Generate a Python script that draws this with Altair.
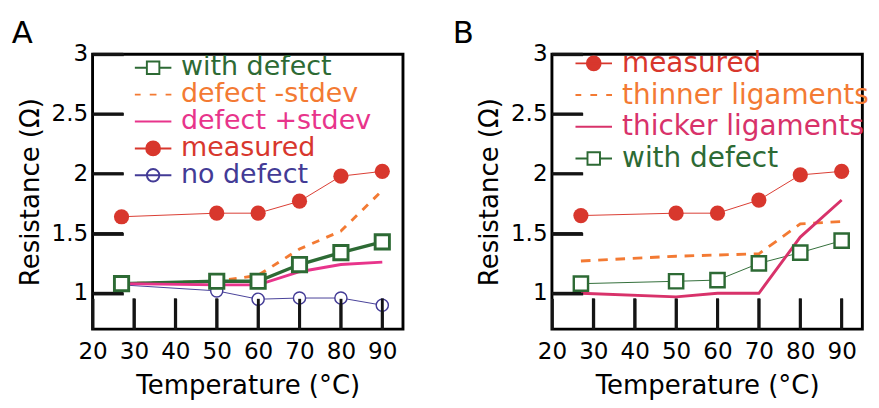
import altair as alt
import pandas as pd

# ---------------- data ----------------
temps = [27, 50, 60, 70, 80, 90]

a_with_defect = [1.08, 1.10, 1.10, 1.24, 1.34, 1.43]
a_defect_minus = [1.08, 1.10, 1.15, 1.37, 1.52, 1.86]
a_defect_plus = [1.08, 1.07, 1.07, 1.18, 1.24, 1.26]
a_measured = [1.64, 1.67, 1.67, 1.77, 1.98, 2.02]
a_no_defect = [1.07, 1.02, 0.95, 0.96, 0.96, 0.90]

b_measured = [1.65, 1.67, 1.67, 1.78, 1.99, 2.02]
b_thinner = [1.27, 1.31, 1.32, 1.33, 1.58, 1.60]
b_thicker = [1.00, 0.97, 1.00, 1.00, 1.47, 1.78]
b_with_defect = [1.08, 1.10, 1.11, 1.25, 1.34, 1.44]

a_names = ["with defect", "defect -stdev", "defect +stdev", "measured", "no defect"]
b_names = ["measured", "thinner ligaments", "thicker ligaments", "with defect"]

x_tick_values = [20, 30, 40, 50, 60, 70, 80, 90]
y_tick_values = [1, 1.5, 2, 2.5, 3]

# ---------------- style ----------------
FONT = "DejaVu Sans"
W, H = 323, 286
XDOM = [20, 95]
YDOM = [0.7, 3]
TICK_PX = 32

RED = "#d8372d"
GREEN = "#2d6a34"
ORANGE = "#f37a33"
PINK = "#e8348b"
CRIMSON = "#d8326a"
BLUE = "#433b96"
TICK = "#141414"

colors = {
    "with defect": GREEN, "defect -stdev": ORANGE, "defect +stdev": PINK,
    "measured": RED, "no defect": BLUE,
    "thinner ligaments": ORANGE, "thicker ligaments": CRIMSON,
}
fills = {
    "with defect": "white", "defect -stdev": "transparent", "defect +stdev": "transparent",
    "measured": RED, "no defect": "white",
    "thinner ligaments": "transparent", "thicker ligaments": "transparent",
}
LINE = "M-1.9,0H1.9"
DASH = "M-1.9,0H-1.3M-0.35,0H0.35M1.3,0H1.9"
paths = {
    "with defect": "M-1.9,0H-0.65M0.65,0H1.9M-0.65,-0.65H0.65V0.65H-0.65Z",
    "defect -stdev": DASH,
    "defect +stdev": LINE,
    "measured": "M-1.9,0H1.9M-0.72,0A0.72,0.72 0 1,0 0.72,0A0.72,0.72 0 1,0 -0.72,0Z",
    "no defect": "M-1.9,0H1.9M-0.65,0A0.65,0.65 0 1,0 0.65,0A0.65,0.65 0 1,0 -0.65,0Z",
    "thinner ligaments": DASH,
    "thicker ligaments": LINE,
}


def make_df(series):
    rows = []
    for name, vals in series.items():
        for t, v in zip(temps, vals):
            rows.append({"series": name, "t": t, "r": v})
    return pd.DataFrame(rows)


XS = alt.Scale(domain=XDOM, nice=False, zero=False)
YS = alt.Scale(domain=YDOM, nice=False, zero=False)


def xenc():
    return alt.X("t:Q", scale=XS,
                 axis=alt.Axis(values=x_tick_values, title="Temperature (°C)",
                               offset=-TICK_PX, ticks=True, tickSize=TICK_PX, tickWidth=3,
                               tickColor=TICK, labelPadding=12, titlePadding=10,
                               labelFlush=False, zindex=1))


def yenc():
    return alt.Y("r:Q", scale=YS,
                 axis=alt.Axis(values=y_tick_values, title="Resistance (Ω)",
                               offset=-TICK_PX, ticks=True, tickSize=TICK_PX, tickWidth=3,
                               tickColor=TICK, labelPadding=5, titlePadding=7,
                               labelFlush=False, format="~g", zindex=1))


def tick_rules():
    xt = pd.DataFrame({"t": x_tick_values[1:]})
    xt["r"] = YDOM[0]
    xt["r1"] = YDOM[0] + TICK_PX / H * (YDOM[1] - YDOM[0])
    yt = pd.DataFrame({"r": y_tick_values})
    yt["t"] = XDOM[0]
    yt["t1"] = XDOM[0] + TICK_PX / W * (XDOM[1] - XDOM[0])
    xr = alt.Chart(xt).mark_rule(color=TICK, strokeWidth=3).encode(x=xenc(), y=yenc(), y2="r1:Q")
    yr = alt.Chart(yt).mark_rule(color=TICK, strokeWidth=3).encode(x=xenc(), y=yenc(), x2="t1:Q")
    return [xr, yr]


def line(df, name, color, width, dash=None):
    kw = dict(color=color, strokeWidth=width)
    if dash:
        kw["strokeDash"] = dash
    return alt.Chart(df).transform_filter(alt.datum.series == name).mark_line(**kw).encode(
        x=xenc(), y=yenc())


def points(df, name, shape, size, fill, stroke, sw):
    return alt.Chart(df).transform_filter(alt.datum.series == name).mark_point(
        shape=shape, size=size, fill=fill, stroke=stroke, strokeWidth=sw, filled=True, opacity=1
    ).encode(x=xenc(), y=yenc())


def legend_layer(names, lx, ly, rowpad, fsize):
    expr = " : ".join(f"datum.value === '{n}' ? '{colors[n]}'" for n in names) + " : 'black'"
    leg = alt.Legend(orient="none", legendX=lx, legendY=ly, title=None,
                     labelFont=FONT, labelFontSize=fsize, labelOffset=15, labelLimit=0,
                     symbolSize=400, symbolStrokeWidth=2, rowPadding=rowpad, padding=0,
                     labelColor=alt.ExprRef(expr))
    df = pd.DataFrame({"series": names})
    return alt.Chart(df).transform_filter("false").mark_point(opacity=1).encode(
        shape=alt.Shape("series:N", scale=alt.Scale(domain=names, range=[paths[n] for n in names]), legend=leg),
        stroke=alt.Stroke("series:N", scale=alt.Scale(domain=names, range=[colors[n] for n in names]), legend=leg),
        fill=alt.Fill("series:N", scale=alt.Scale(domain=names, range=[fills[n] for n in names]), legend=leg),
    )


dfa = make_df({"with defect": a_with_defect, "defect -stdev": a_defect_minus,
               "defect +stdev": a_defect_plus, "measured": a_measured, "no defect": a_no_defect})
dfb = make_df({"measured": b_measured, "thinner ligaments": b_thinner,
               "thicker ligaments": b_thicker, "with defect": b_with_defect})

panel_a = alt.layer(
    *tick_rules(),
    line(dfa, "measured", RED, 1),
    line(dfa, "no defect", BLUE, 1),
    line(dfa, "defect -stdev", ORANGE, 3, [8, 8]),
    line(dfa, "with defect", GREEN, 3.5),
    line(dfa, "defect +stdev", PINK, 3),
    points(dfa, "measured", "circle", 250, RED, RED, 0),
    points(dfa, "no defect", "circle", 160, "white", BLUE, 1.5),
    points(dfa, "with defect", "square", 220, "white", GREEN, 3),
    legend_layer(a_names, 49, 0, 0, 28),
).properties(width=W, height=H,
             title=alt.Title("A", anchor="start", fontSize=32, font=FONT, fontWeight="normal", dx=-6, offset=-7))

panel_b = alt.layer(
    *tick_rules(),
    line(dfb, "measured", RED, 1),
    line(dfb, "thinner ligaments", ORANGE, 3, [10, 8]),
    line(dfb, "with defect", GREEN, 1),
    line(dfb, "thicker ligaments", CRIMSON, 3),
    points(dfb, "measured", "circle", 250, RED, RED, 0),
    points(dfb, "with defect", "square", 220, "white", GREEN, 2.5),
    legend_layer(b_names, 29, -5, 3, 29),
).properties(width=W, height=H,
             title=alt.Title("B", anchor="start", fontSize=32, font=FONT, fontWeight="normal", dx=-25, offset=-7))

chart = alt.hconcat(panel_a, panel_b, spacing=48).resolve_scale(
    x="independent", y="independent", shape="independent", stroke="independent", fill="independent"
).properties(padding={"left": 2, "top": 0, "right": 0, "bottom": 0}).configure_view(
    stroke="black", strokeWidth=3
).configure_axis(
    labelFont=FONT, labelFontSize=24, titleFont=FONT, titleFontSize=27, titleFontWeight="normal",
    labelColor="black", titleColor="black", domain=False, grid=False
).configure_title(color="black")

chart.save("out.html", embed_options={"renderer": "svg", "actions": False})
